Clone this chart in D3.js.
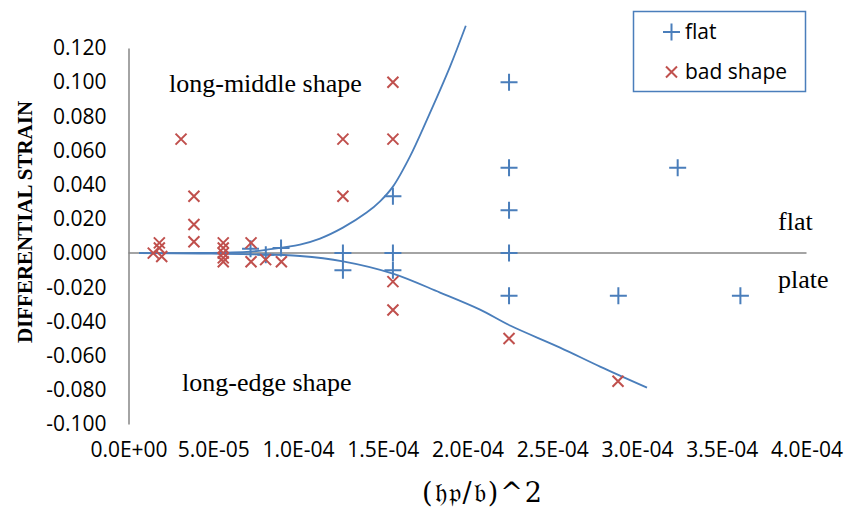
<!DOCTYPE html>
<html><head><meta charset="utf-8">
<script src="https://cdn.jsdelivr.net/npm/d3@7"></script>
<style>body{margin:0;background:#fff}svg{display:block}</style>
</head><body>
<svg id="chart" width="858" height="507"></svg>
<script>
// ---- data ----
const xTicks = [0, 0.5e-4, 1.0e-4, 1.5e-4, 2.0e-4, 2.5e-4, 3.0e-4, 3.5e-4, 4.0e-4];
const xTickLabels = ["0.0E+00","5.0E-05","1.0E-04","1.5E-04","2.0E-04","2.5E-04","3.0E-04","3.5E-04","4.0E-04"];
const yTicks = [0.12, 0.10, 0.08, 0.06, 0.04, 0.02, 0, -0.02, -0.04, -0.06, -0.08, -0.10];
const yTickLabels = ["0.120","0.100","0.080","0.060","0.040","0.020","0.000","-0.020","-0.040","-0.060","-0.080","-0.100"];

const flatX = [7.2e-5, 8.1e-5, 9.0e-5, 1.265e-4, 1.265e-4, 1.56e-4, 1.56e-4, 1.56e-4,
               2.245e-4, 2.245e-4, 2.245e-4, 2.245e-4, 2.245e-4, 2.89e-4, 3.24e-4, 3.61e-4];
const flatY = [0.0025, -0.001, 0.003, 0, -0.010, 0.0333, 0, -0.010,
               0.100, 0.050, 0.025, 0, -0.025, -0.025, 0.050, -0.025];

const badX = [1.46e-5, 1.82e-5, 1.82e-5, 1.96e-5, 3.1e-5, 3.86e-5, 3.86e-5, 3.86e-5,
              5.59e-5, 5.59e-5, 5.59e-5, 5.59e-5, 5.59e-5, 7.23e-5, 7.23e-5, 8.09e-5, 9.02e-5,
              1.265e-4, 1.265e-4, 1.56e-4, 1.56e-4, 1.56e-4, 1.56e-4, 2.245e-4, 2.888e-4];
const badY = [0, 0.006, 0.003, -0.002, 0.0667, 0.0333, 0.0167, 0.0066,
              0.006, 0.003, 0, -0.0028, -0.0051, 0.006, -0.0051, -0.0038, -0.0051,
              0.0667, 0.0333, 0.100, 0.0667, -0.0167, -0.0333, -0.050, -0.075];

const upperCurveX = [6.2e-6, 4.22e-5, 7.17e-5, 8.17e-5, 1.012e-4, 1.13e-4, 1.265e-4, 1.405e-4, 1.484e-4, 1.56e-4, 1.661e-4, 1.761e-4, 1.897e-4, 1.99e-4];
const upperCurveY = [0, 0.0001, 0.0009, 0.002, 0.005, 0.0085, 0.0149, 0.0237, 0.0303, 0.0389, 0.0566, 0.0781, 0.1091, 0.133];
const lowerCurveX = [6.2e-6, 4.22e-5, 7.17e-5, 1.012e-4, 1.265e-4, 1.56e-4, 1.838e-4, 2.074e-4, 2.251e-4, 2.546e-4, 2.782e-4, 3.059e-4];
const lowerCurveY = [0, -0.0003, -0.0007, -0.0017, -0.0048, -0.012, -0.0231, -0.0331, -0.0424, -0.0553, -0.0664, -0.0787];

const seriesNames = ["flat", "bad shape"];

// ---- drawing ----
const svg = d3.select("#chart");
const blue = "#4A7EBB", red = "#C0504D", axisGray = "#868686";
const tickFont = "'Open Sans', sans-serif";
const serif = "'Liberation Serif', 'Times New Roman', serif";

const x = d3.scaleLinear().domain([0, 4e-4]).range([128.5, 806.5]);
const y = d3.scaleLinear().domain([-0.1, 0.12]).range([424, 48]);

// y axis
const yAxis = svg.append("g").attr("transform", `translate(${x(0)},0)`)
  .call(d3.axisLeft(y).tickValues(yTicks).tickFormat((d,i)=>yTickLabels[i]).tickSize(0).tickSizeOuter(0).tickPadding(22));
yAxis.select(".domain").attr("stroke", axisGray).attr("stroke-width", 1.5);
yAxis.selectAll("text").attr("font-family", tickFont).attr("font-size", 21).attr("fill", "#000");

// x axis labels (low position)
const xAxis = svg.append("g").attr("transform", `translate(0,${y(-0.1)})`)
  .call(d3.axisBottom(x).tickValues(xTicks).tickFormat((d,i)=>xTickLabels[i]).tickSize(0).tickPadding(18));
xAxis.select(".domain").remove();
xAxis.selectAll("text").attr("font-family", tickFont).attr("font-size", 21).attr("fill", "#000");

// zero line (horizontal axis)
svg.append("line").attr("x1", x(0)).attr("x2", x(4e-4)).attr("y1", y(0)).attr("y2", y(0))
  .attr("stroke", axisGray).attr("stroke-width", 1.5);

// curves
const line = d3.line().x(d=>x(d[0])).y(d=>y(d[1])).curve(d3.curveCatmullRom.alpha(0.5));
svg.append("path").datum(upperCurveX.map((v,i)=>[v, upperCurveY[i]]))
  .attr("d", line).attr("fill","none").attr("stroke", blue).attr("stroke-width", 1.8);
svg.append("path").datum(lowerCurveX.map((v,i)=>[v, lowerCurveY[i]]))
  .attr("d", line).attr("fill","none").attr("stroke", blue).attr("stroke-width", 1.8);

// markers
const plusPath = "M-8.5,0H8.5M0,-8.5V8.5";
const crossPath = "M-5.5,-5.5L5.5,5.5M5.5,-5.5L-5.5,5.5";
svg.append("g").selectAll("path").data(flatX.map((v,i)=>[v, flatY[i]])).join("path")
  .attr("transform", d=>`translate(${x(d[0])},${y(d[1])})`).attr("d", plusPath)
  .attr("stroke", blue).attr("stroke-width", 2).attr("fill","none");
svg.append("g").selectAll("path").data(badX.map((v,i)=>[v, badY[i]])).join("path")
  .attr("transform", d=>`translate(${x(d[0])},${y(d[1])})`).attr("d", crossPath)
  .attr("stroke", red).attr("stroke-width", 2).attr("fill","none");

// annotations
const ann = [
  {t:"long-middle shape", x:169, y:92},
  {t:"long-edge shape", x:182, y:391},
  {t:"flat", x:778, y:230},
  {t:"plate", x:778, y:288}
];
svg.append("g").selectAll("text").data(ann).join("text")
  .attr("x", d=>d.x).attr("y", d=>d.y).text(d=>d.t)
  .attr("font-family", serif).attr("font-size", 26).attr("fill", "#000");

// axis titles
svg.append("text").attr("transform", "translate(31.5,222) rotate(-90)")
  .attr("text-anchor","middle").attr("font-family", serif).attr("font-weight","bold")
  .attr("font-size", 21).text("DIFFERENTIAL STRAIN");
svg.append("text").attr("x", 483).attr("y", 502).attr("text-anchor","middle")
  .attr("font-family", "'DejaVu Serif', serif").attr("font-size", 27).attr("letter-spacing", 2)
  .text("(𝔥𝔭/𝔟)^2");

// legend
const lg = svg.append("g");
lg.append("rect").attr("x", 633.5).attr("y", 11.5).attr("width", 172).attr("height", 80)
  .attr("fill","#fff").attr("stroke", blue).attr("stroke-width", 1.5);
lg.append("path").attr("d", plusPath).attr("transform","translate(671.5,32)")
  .attr("stroke", blue).attr("stroke-width", 2);
lg.append("path").attr("d", crossPath).attr("transform","translate(671.5,72)")
  .attr("stroke", red).attr("stroke-width", 2);
lg.selectAll("text.lt").data(seriesNames).join("text").attr("class","lt")
  .attr("x", 685).attr("y", (d,i)=> i===0 ? 39 : 79).text(d=>d)
  .attr("font-family", tickFont).attr("font-size", 21).attr("fill","#000");
</script>
</body></html>
